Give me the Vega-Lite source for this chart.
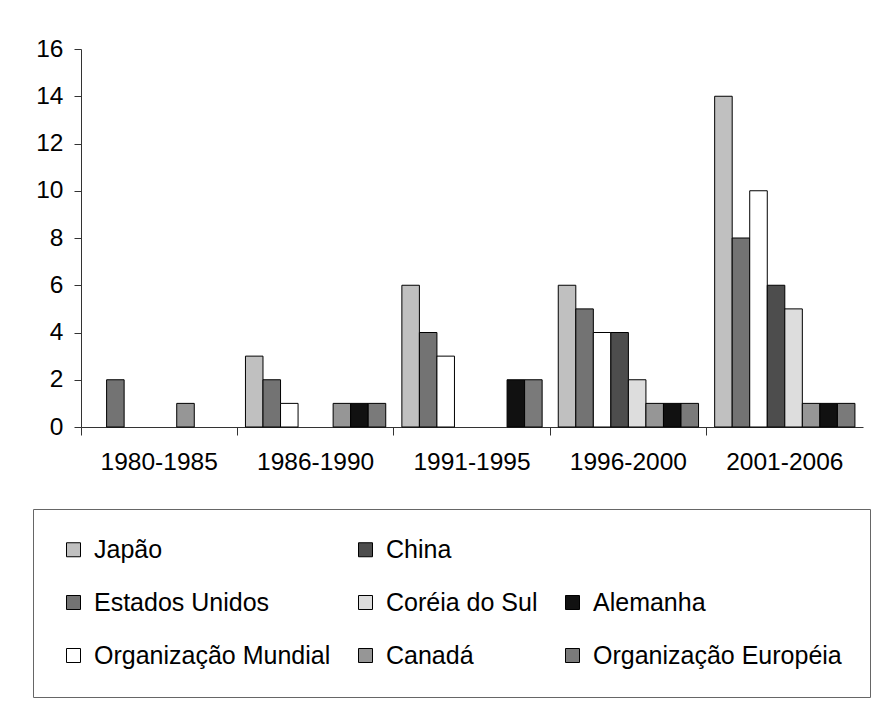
{
  "$schema": "https://vega.github.io/schema/vega-lite/v6.json",
  "width": 782,
  "height": 378,
  "autosize": {"type": "none"},
  "padding": {"left": 81, "top": 49, "right": 30, "bottom": 279},
  "background": "white",
  "config": {
    "font": "Liberation Sans",
    "view": {"stroke": null},
    "axis": {"grid": false, "labelFont": "Liberation Sans", "labelFontSize": 24.5, "labelColor": "#000", "domainColor": "#333", "tickColor": "#333", "title": null}
  },
  "data": {
    "values": [
      {"periodo": "1980-1985", "pais": "Estados Unidos", "valor": 2},
      {"periodo": "1980-1985", "pais": "Canadá", "valor": 1},
      {"periodo": "1986-1990", "pais": "Japão", "valor": 3},
      {"periodo": "1986-1990", "pais": "Estados Unidos", "valor": 2},
      {"periodo": "1986-1990", "pais": "Organização Mundial", "valor": 1},
      {"periodo": "1986-1990", "pais": "Canadá", "valor": 1},
      {"periodo": "1986-1990", "pais": "Alemanha", "valor": 1},
      {"periodo": "1986-1990", "pais": "Organização Européia", "valor": 1},
      {"periodo": "1991-1995", "pais": "Japão", "valor": 6},
      {"periodo": "1991-1995", "pais": "Estados Unidos", "valor": 4},
      {"periodo": "1991-1995", "pais": "Organização Mundial", "valor": 3},
      {"periodo": "1991-1995", "pais": "Alemanha", "valor": 2},
      {"periodo": "1991-1995", "pais": "Organização Européia", "valor": 2},
      {"periodo": "1996-2000", "pais": "Japão", "valor": 6},
      {"periodo": "1996-2000", "pais": "Estados Unidos", "valor": 5},
      {"periodo": "1996-2000", "pais": "Organização Mundial", "valor": 4},
      {"periodo": "1996-2000", "pais": "China", "valor": 4},
      {"periodo": "1996-2000", "pais": "Coréia do Sul", "valor": 2},
      {"periodo": "1996-2000", "pais": "Canadá", "valor": 1},
      {"periodo": "1996-2000", "pais": "Alemanha", "valor": 1},
      {"periodo": "1996-2000", "pais": "Organização Européia", "valor": 1},
      {"periodo": "2001-2006", "pais": "Japão", "valor": 14},
      {"periodo": "2001-2006", "pais": "Estados Unidos", "valor": 8},
      {"periodo": "2001-2006", "pais": "Organização Mundial", "valor": 10},
      {"periodo": "2001-2006", "pais": "China", "valor": 6},
      {"periodo": "2001-2006", "pais": "Coréia do Sul", "valor": 5},
      {"periodo": "2001-2006", "pais": "Canadá", "valor": 1},
      {"periodo": "2001-2006", "pais": "Alemanha", "valor": 1},
      {"periodo": "2001-2006", "pais": "Organização Européia", "valor": 1}
    ]
  },
  "mark": {"type": "bar", "stroke": "#000", "strokeWidth": 1},
  "encoding": {
    "x": {
      "field": "periodo",
      "type": "nominal",
      "sort": ["1980-1985", "1986-1990", "1991-1995", "1996-2000", "2001-2006"],
      "scale": {"paddingInner": 0, "paddingOuter": 0},
      "axis": {"labelAngle": 0, "bandPosition": 0, "tickSize": 8, "labelPadding": 15, "domainWidth": 1.2}
    },
    "xOffset": {
      "field": "pais",
      "type": "nominal",
      "scale": {"domain": ["Japão", "Estados Unidos", "Organização Mundial", "China", "Coréia do Sul", "Canadá", "Alemanha", "Organização Européia"], "paddingInner": 0, "paddingOuter": 0.46}
    },
    "y": {
      "field": "valor",
      "type": "quantitative",
      "scale": {"domain": [0, 16], "nice": false},
      "axis": {"values": [0, 2, 4, 6, 8, 10, 12, 14, 16], "tickSize": 7, "labelPadding": 11}
    },
    "color": {
      "field": "pais",
      "type": "nominal",
      "scale": {
        "domain": ["Japão", "China", "x_blank", "Estados Unidos", "Coréia do Sul", "Alemanha", "Organização Mundial", "Canadá", "Organização Européia"],
        "range": ["#c0c0c0", "#4d4d4d", "#ffffff", "#737373", "#dddddd", "#111111", "#ffffff", "#969696", "#7a7a7a"]
      },
      "legend": {
        "title": null,
        "orient": "none",
        "legendX": -48,
        "legendY": 460,
        "columns": 3,
        "direction": "horizontal",
        "columnPadding": 22,
        "rowPadding": 27,
        "padding": 28,
        "strokeColor": "#666",
        "symbolType": "square",
        "symbolSize": 196,
        "symbolStrokeColor": "#000",
        "symbolStrokeWidth": 1,
        "symbolOpacity": 1,
        "labelFont": "Liberation Sans",
        "labelFontSize": 25,
        "labelColor": "#000",
        "labelOffset": 8,
        "labelLimit": 400,
        "labelExpr": "datum.value === 'x_blank' ? '' : datum.label",
        "encode": {
          "symbols": {"update": {"opacity": {"signal": "datum.value === 'x_blank' ? 0 : 1"}}}
        }
      }
    }
  }
}
